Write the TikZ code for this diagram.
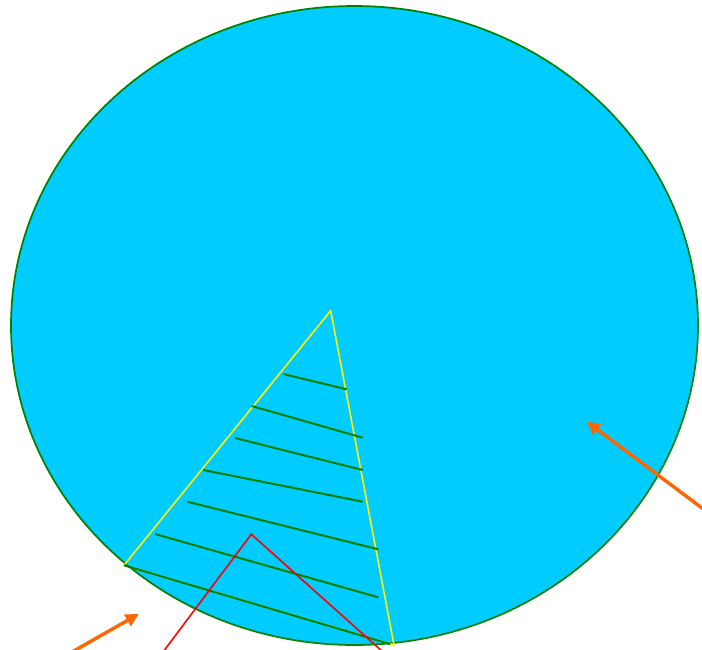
\documentclass[tikz,border=0pt]{standalone}
\usetikzlibrary{arrows.meta}
\definecolor{skyfill}{HTML}{00CCFF}
\definecolor{rimgreen}{HTML}{008000}
\definecolor{arroworange}{HTML}{FF6600}
\begin{document}
\begin{tikzpicture}[x=1pt,y=-1pt,
  hatch/.style={draw=rimgreen,line width=2pt},
  orangearrow/.style={draw=arroworange,line width=3.4pt,-{Triangle[length=13pt,width=13pt]}}]
\useasboundingbox (0,0) rectangle (702,649);
\begin{scope}
\clip (0,0) rectangle (702,649);
\draw[fill=skyfill,draw=rimgreen,line width=1.7pt] (354.5,325.5) ellipse [x radius=343.5,y radius=319.5];
\coordinate (A) at (330.7,310.7);
\coordinate (B) at (124,565.3);
\coordinate (C) at (394,645);
\draw[yellow,line width=1.6pt,line join=round] (A) -- (B) -- (C) -- cycle;
\draw[hatch] (283.3,374) -- (346.7,389.3);
\draw[hatch] (251.7,406) -- (362.7,437.7);
\draw[hatch] (235,438) -- (362.7,470);
\draw[hatch] (203.3,470) -- (362.7,501.7);
\draw[hatch] (187.3,501.7) -- (378.3,549.3);
\draw[hatch] (155,534) -- (378.3,597.3);
\draw[hatch] (B) -- (390,644);
\coordinate (R1) at (163,652);
\coordinate (R2) at (251.3,534.3);
\coordinate (R3) at (383,652);
\draw[red,line width=1.6pt] (R1) -- (R2) -- (R3);
\coordinate (P1) at (706,511);
\coordinate (P2) at (586.7,421.7);
\draw[orangearrow] (P1) -- (P2);
\coordinate (Q1) at (72,652);
\coordinate (Q2) at (138.7,614);
\draw[orangearrow] (Q1) -- (Q2);
\end{scope}
\end{tikzpicture}
\end{document}
